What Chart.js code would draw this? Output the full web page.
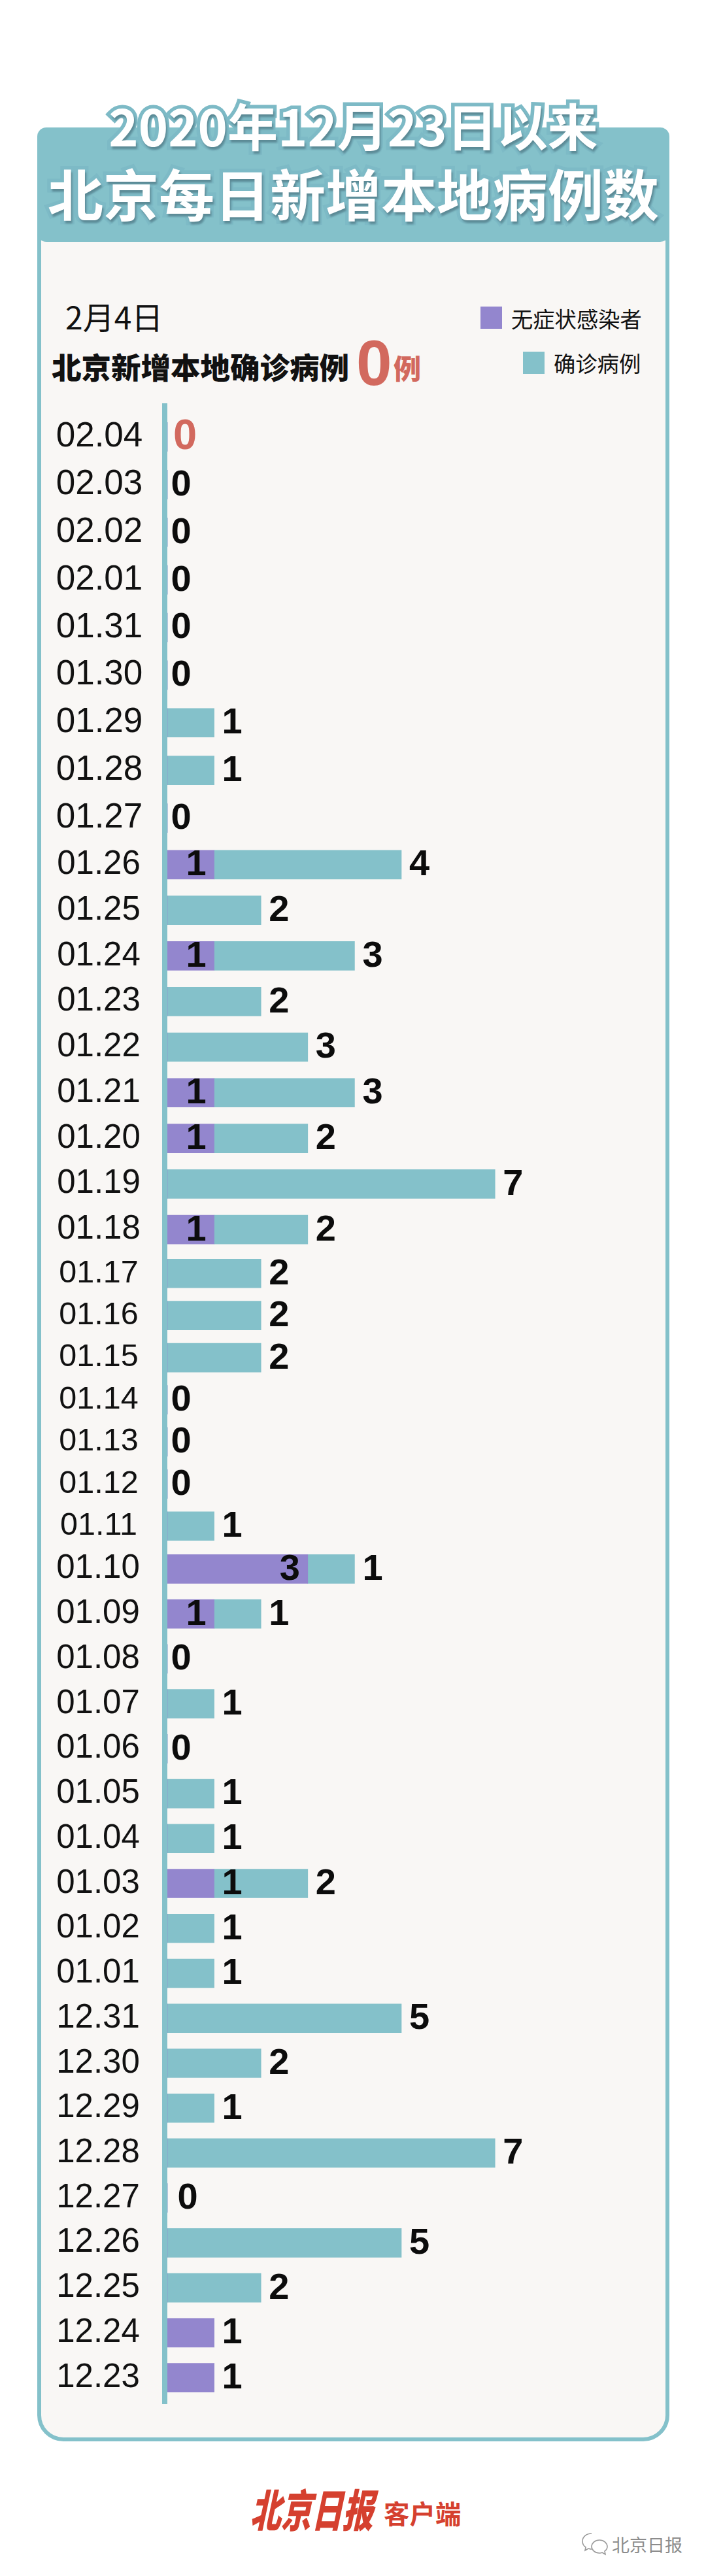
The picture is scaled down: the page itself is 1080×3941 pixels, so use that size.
<!DOCTYPE html>
<html lang="zh-CN">
<head>
<meta charset="utf-8">
<title>北京每日新增本地病例数</title>
<script src="https://cdn.jsdelivr.net/npm/chart.js@4/dist/chart.umd.min.js"></script>
<style>
  html, body { margin: 0; padding: 0; background: #fff; }
  body { position: relative; width: 1080px; height: 3941px; overflow: hidden; font-family: "Noto Sans CJK SC", sans-serif; color: #111; }
  .abs { position: absolute; white-space: nowrap; line-height: 1; }
  #panel { position: absolute; left: 57px; top: 340px; width: 955px; height: 3383px; background: #f9f7f5; border: 6px solid #84c1ca; border-radius: 0 0 40px 40px; }
  #header { position: absolute; left: 57px; top: 195px; width: 967px; height: 175px; background: #84c1ca; border-radius: 14px; }
  #rail { position: absolute; left: 248px; top: 617px; width: 8px; height: 3061px; background: #84c1ca; }
  .title { color: #fff; font-weight: 700; text-align: center; left: 57px; width: 967px; -webkit-text-stroke: 11px #7dbac6; paint-order: stroke fill; text-shadow: 2px 4px 3px rgba(50, 80, 90, .45); }
  .swatch { position: absolute; width: 33px; height: 34px; }
  canvas { position: absolute; left: 0; }
</style>
</head>
<body>
<div id="panel"></div>
<div id="header"></div>
<div class="abs title" style="top:152px;font-size:77px">2020年12月23日以来</div>
<div class="abs title" style="top:251px;font-size:85px">北京每日新增本地病例数</div>

<div class="abs" style="left:100px;top:459px;font-size:48px">2月4日</div>
<div class="abs" style="left:79px;top:538px;font-size:45.5px;font-weight:900">北京新增本地确诊病例</div>
<div class="abs" style="left:545px;top:499px;font:bold 98px 'Liberation Sans';color:#d2695e">0</div>
<div class="abs" style="left:602px;top:541px;font-size:42px;font-weight:900;color:#d2695e">例</div>

<div class="swatch" style="left:735px;top:469px;background:#9386ce"></div>
<div class="abs" style="left:782px;top:470px;font-size:33.3px">无症状感染者</div>
<div class="swatch" style="left:800px;top:538px;background:#84c1ca"></div>
<div class="abs" style="left:847px;top:538px;font-size:33.3px">确诊病例</div>

<div id="rail"></div>
<div id="charts"></div>

<div class="abs" style="left:396px;top:3802px;font-size:47px;font-weight:900;color:#d5402f;transform:skewX(-12deg) scaleY(1.45);transform-origin:left top">北京日报</div>
<div class="abs" style="left:587px;top:3824px;font-size:39.5px;font-weight:700;color:#d5402f">客户端</div>

<svg class="abs" style="left:889px;top:3873px" width="42" height="38" viewBox="0 0 42 38" fill="none" stroke="#9a9a9a" stroke-width="1.6">
  <path d="M16 3C8 3 2 8 2 15c0 4 2 7 5 9l-1 5 5-3c1 0 3 1 5 1"/>
  <path d="M28 13c-7 0-12 5-12 10s5 10 12 10c1 0 3 0 4-1l5 3-1-5c3-2 4-4 4-7 0-5-5-10-12-10z"/>
</svg>
<div class="abs" style="left:936px;top:3879px;font-size:27px;color:#8c8c8c">北京日报</div>

<script>
// top row is the latest day
const dates = [
  '02.04', '02.03', '02.02', '02.01', '01.31', '01.30', '01.29', '01.28', '01.27',
  '01.26', '01.25', '01.24', '01.23', '01.22', '01.21', '01.20', '01.19', '01.18',
  '01.17', '01.16', '01.15', '01.14', '01.13', '01.12', '01.11',
  '01.10', '01.09', '01.08', '01.07', '01.06', '01.05', '01.04', '01.03', '01.02', '01.01',
  '12.31', '12.30', '12.29', '12.28', '12.27', '12.26', '12.25', '12.24', '12.23'
];
const asymptomatic = [
  0, 0, 0, 0, 0, 0, 0, 0, 0,
  1, 0, 1, 0, 0, 1, 1, 0, 1,
  0, 0, 0, 0, 0, 0, 0,
  3, 1, 0, 0, 0, 0, 0, 1, 0, 0,
  0, 0, 0, 0, 0, 0, 0, 1, 1
];
const confirmed = [
  0, 0, 0, 0, 0, 0, 1, 1, 0,
  4, 2, 3, 2, 3, 3, 2, 7, 2,
  2, 2, 2, 0, 0, 0, 1,
  1, 1, 0, 1, 0, 1, 1, 2, 1, 1,
  5, 2, 1, 7, 0, 5, 2, 0, 0
];

const TEAL = '#84c1ca';
const PURPLE = '#9386ce';
const RED = '#d2695e';
const LATEST = '02.04';

// row pitch changes down the page, so each block of rows gets its own chart
const SECTIONS = [
  { first: 0, rows: 9, top: 631.5, height: 656, dateSize: 53, dateCentre: 152 },
  { first: 9, rows: 9, top: 1287.5, height: 628, dateSize: 51, dateCentre: 151 },
  { first: 18, rows: 7, top: 1915.5, height: 451, dateSize: 48.5, dateCentre: 151 },
  { first: 25, rows: 19, top: 2366, height: 1306, dateSize: 51, dateCentre: 150 }
];

const AXIS_RIGHT = 256;
const UNIT = 71.6;
const X_MAX = 10;

const isZero = (a, c) => a === 0 && c === 0;

// value labels: confirmed after the bar end, asymptomatic inside its own segment
const valueLabels = {
  id: 'valueLabels',
  afterDatasetsDraw(chart) {
    const ctx = chart.ctx;
    const labels = chart.data.labels;
    const [aData, cData] = chart.data.datasets.map(d => d.data);
    const aMeta = chart.getDatasetMeta(0).data;
    const cMeta = chart.getDatasetMeta(1).data;
    ctx.save();
    ctx.textBaseline = 'middle';
    ctx.fillStyle = '#0c0c0c';
    ctx.font = 'bold 56px "Liberation Sans"';

    labels.forEach((day, i) => {
      const a = aData[i];
      const c = cData[i];
      const y = cMeta[i].y + 1;
      if (isZero(a, c)) {
        ctx.textAlign = 'center';
        if (day === LATEST) {
          ctx.save();
          ctx.fillStyle = RED;
          ctx.font = 'bold 65px "Liberation Sans"';
          ctx.fillText('0', cMeta[i].x + 27, y);
          ctx.restore();
        } else {
          ctx.fillText('0', cMeta[i].x + (day === '12.27' ? 31 : 21), y);
        }
        return;
      }
      if (a > 0) {
        if (c === 0 || day === '01.03') {
          ctx.textAlign = 'left';
          ctx.fillText(String(a), aMeta[i].x + 12, y);
        } else {
          ctx.textAlign = 'right';
          ctx.fillText(String(a), aMeta[i].x - 12, y);
        }
      }
      if (c > 0) {
        ctx.textAlign = 'left';
        ctx.fillText(String(c), cMeta[i].x + 12, y);
      }
    });
    ctx.restore();
  }
};

function drawSection(section) {
  const canvas = document.createElement('canvas');
  canvas.style.top = section.top + 'px';
  canvas.width = 1080;
  canvas.height = section.height;
  document.getElementById('charts').appendChild(canvas);

  const end = section.first + section.rows;
  const widest = 2.502 * section.dateSize;

  new Chart(canvas, {
    type: 'bar',
    plugins: [valueLabels],
    data: {
      labels: dates.slice(section.first, end),
      datasets: [
        { label: '无症状感染者', data: asymptomatic.slice(section.first, end), backgroundColor: PURPLE },
        { label: '确诊病例', data: confirmed.slice(section.first, end), backgroundColor: TEAL }
      ]
    },
    options: {
      indexAxis: 'y',
      responsive: false,
      animation: false,
      events: [],
      barThickness: 44,
      borderWidth: 0,
      layout: { padding: { right: 1080 - AXIS_RIGHT - UNIT * X_MAX } },
      plugins: { legend: { display: false }, tooltip: { enabled: false } },
      scales: {
        x: { stacked: true, display: false, min: 0, max: X_MAX },
        y: {
          stacked: true,
          // tick padding also eats into the height otherwise
          afterFit(scale) {
            scale.width = AXIS_RIGHT;
            scale.paddingTop = 0;
            scale.paddingBottom = 0;
          },
          grid: { display: false, drawTicks: false },
          border: { display: false },
          ticks: {
            autoSkip: false,
            crossAlign: 'center',
            padding: AXIS_RIGHT - section.dateCentre - widest / 2,
            color: '#111',
            font: { family: '"Liberation Sans"', size: section.dateSize }
          }
        }
      }
    }
  });
}

SECTIONS.forEach(drawSection);
</script>
</body>
</html>
